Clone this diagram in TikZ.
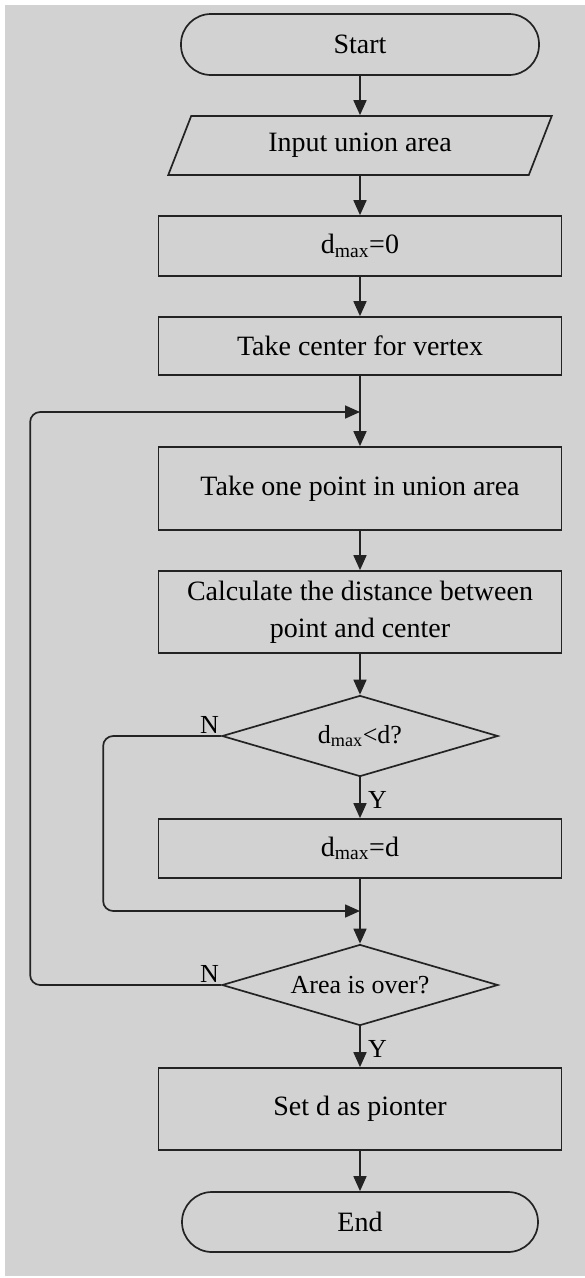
\documentclass[tikz,border=0pt]{standalone}
\usepackage{fontspec}
\setmainfont{Liberation Serif}
\usepackage{tikz}
\usetikzlibrary{arrows.meta}
\usetikzlibrary{shapes.geometric}
\definecolor{bggray}{RGB}{210,210,210}
\definecolor{inkgray}{RGB}{35,35,35}

\begin{document}
\begin{tikzpicture}[x=1pt,y=-1pt,
    every node/.style={font=\fontsize{28}{37}\selectfont},
    term/.style={draw=inkgray, line width=1.7pt, rounded corners=30pt, minimum width=358pt, minimum height=61pt, inner sep=0pt},
    inbox/.style={draw=inkgray, line width=1.7pt, trapezium, trapezium left angle=63, trapezium right angle=117, trapezium stretches=true, minimum width=384pt, minimum height=59pt, inner sep=0pt},
    procbox/.style={draw=inkgray, line width=1.7pt, minimum width=403pt, inner sep=0pt},
    decide/.style={draw=inkgray, line width=1.7pt, diamond, aspect=3.4, minimum width=276pt, minimum height=81pt, inner sep=0pt, font=\fontsize{26}{30}\selectfont},
    flow/.style={draw=inkgray, line width=1.7pt, -{Triangle[length=15pt,width=13pt]}, rounded corners=10pt},
    tag/.style={font=\fontsize{26}{30}\selectfont}]
    \useasboundingbox (0,0) rectangle (585,1278);
    \fill[white] (0,0) rectangle (585,1278);
    \fill[bggray] (5,5) rectangle (585,1276);

    % boxes, top to bottom
    \node[term] (start) at (360,44.5) {Start};
    \node[inbox] (input) at (360,145.5) {Input union area};
    \node[procbox, minimum height=60pt] (dzero) at (360,246) {d\textsubscript{max}=0};
    \node[procbox, minimum height=58pt] (vertex) at (360,346) {Take center for vertex};
    \node[procbox, minimum height=83pt] (point) at (360,488.5) {Take one point in union area};
    \node[procbox, minimum height=82pt, align=center] (calc) at (360,612) {Calculate the distance between\\point and center};
    \node[decide] (ask) at (360,736) {d\textsubscript{max}<d?};
    \node[procbox, minimum height=59pt] (dupd) at (360,848.5) {d\textsubscript{max}=d};
    \node[decide] (over) at (360,985) {Area is over?};
    \node[procbox, minimum height=82pt] (setd) at (360,1109) {Set d as pionter};
    \node[term, minimum width=356pt, minimum height=60pt] (finish) at (360,1222) {End};

    \coordinate (back) at (360,412);
    \coordinate (skip) at (360,911);

    % main line
    \foreach \a/\b in {start/input,input/dzero,dzero/vertex,vertex/point,point/calc,calc/ask,dupd/over,setd/finish}
        \draw[flow] (\a) -- (\b);
    \draw[flow] (ask) -- node[tag, right=4pt, pos=0.55] (yask) {Y} (dupd);
    \draw[flow] (over) -- node[tag, right=4pt, pos=0.55] (yover) {Y} (setd);

    % loops back
    \draw[flow] (ask.west) node[tag, above left=-2pt] (nask) {N} -- ++(-118,0) |- (skip);
    \draw[flow] (over.west) node[tag, above left=-2pt] (nover) {N} -- ++(-191,0) |- (back);
\end{tikzpicture}
\end{document}
